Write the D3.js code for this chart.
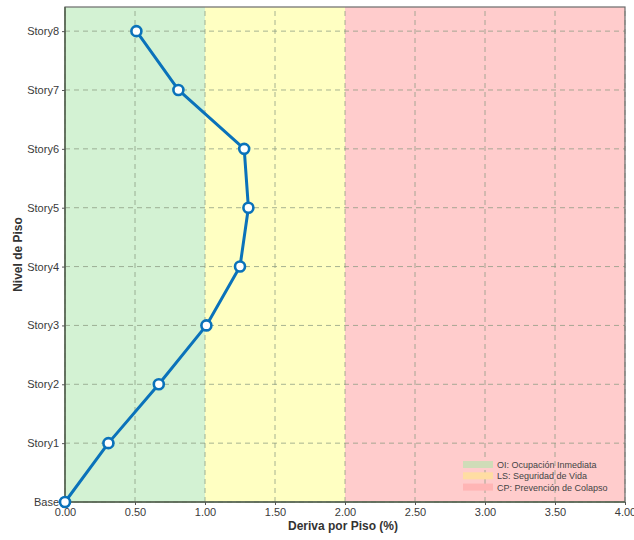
<!DOCTYPE html>
<html>
<head>
<meta charset="utf-8">
<script src="https://cdn.jsdelivr.net/npm/d3@7/dist/d3.min.js"></script>
<style>
  html, body { margin: 0; padding: 0; background: #fff; }
  svg { display: block; font-family: "Liberation Sans", Arial, sans-serif; }
</style>
</head>
<body>
<svg id="chart" width="634" height="540"></svg>
<script>
// Story drift profile
const stories = ["Base", "Story1", "Story2", "Story3", "Story4", "Story5", "Story6", "Story7", "Story8"];
const drift = [0.00, 0.31, 0.67, 1.01, 1.25, 1.31, 1.28, 0.81, 0.51];
const xTicks = [0, 0.5, 1.0, 1.5, 2.0, 2.5, 3.0, 3.5, 4.0];

// Performance zones (drift limits, %)
const zoneNames = ["OI: Ocupación Inmediata", "LS: Seguridad de Vida", "CP: Prevención de Colapso"];
const zoneStart = [0, 1, 2];
const zoneEnd = [1, 2, 4];
const zoneFill = ["#d3f2d3", "#ffffc2", "#ffcccc"];
const legendFill = ["#cfdcb8", "#ffdda3", "#ffb5b5"];

const svg = d3.select("#chart");
const m = { left: 65, right: 10, top: 7, bottom: 38 };
const W = 634, H = 540;

const x = d3.scaleLinear().domain([0, 4]).range([m.left, W - m.right + 1]);
const y = d3.scaleLinear().domain([0, 8.41]).range([H - m.bottom, m.top]);

// zone backgrounds
svg.append("g").selectAll("rect")
  .data(zoneStart)
  .join("rect")
  .attr("x", (d) => x(d))
  .attr("width", (d, i) => x(zoneEnd[i]) - x(d))
  .attr("y", y(8.41))
  .attr("height", y(0) - y(8.41))
  .attr("fill", (d, i) => zoneFill[i]);

// grid
const grid = svg.append("g")
  .attr("stroke", "#8a9a80")
  .attr("stroke-opacity", 0.75)
  .attr("stroke-width", 1)
  .attr("stroke-dasharray", "5,4");
grid.selectAll(".gx").data(xTicks).join("line")
  .attr("x1", (d) => x(d)).attr("x2", (d) => x(d))
  .attr("y1", y(0)).attr("y2", y(8.41));
grid.selectAll(".gy").data(d3.range(stories.length)).join("line")
  .attr("y1", (d) => y(d)).attr("y2", (d) => y(d))
  .attr("x1", x(0)).attr("x2", x(4));

// frame
svg.append("rect")
  .attr("x", x(0)).attr("y", y(8.41))
  .attr("width", x(4) - x(0)).attr("height", y(0) - y(8.41))
  .attr("fill", "none").attr("stroke", "#6b6b6b").attr("stroke-width", 1.2);
svg.append("line")
  .attr("x1", x(0)).attr("x2", x(0)).attr("y1", y(0)).attr("y2", y(8.41))
  .attr("stroke", "#55654f").attr("stroke-width", 1.5);
svg.append("line")
  .attr("x1", x(0)).attr("x2", x(4)).attr("y1", y(0)).attr("y2", y(0))
  .attr("stroke", "#55654f").attr("stroke-width", 1.5);

// axes
const xAxis = d3.axisBottom(x).tickValues(xTicks).tickFormat(d3.format(".2f")).tickSize(3).tickPadding(3);
const yAxis = d3.axisLeft(y).tickValues(d3.range(stories.length)).tickFormat((i) => stories[i]).tickSize(3).tickPadding(3);

const gx = svg.append("g").attr("transform", `translate(0,${y(0)})`).call(xAxis);
const gy = svg.append("g").attr("transform", `translate(${x(0)},0)`).call(yAxis);
[gx, gy].forEach((g) => {
  g.select(".domain").remove();
  g.selectAll(".tick line").attr("stroke", "#555");
  g.selectAll(".tick text").attr("fill", "#3a3a3a").style("font-size", "11px");
});

// axis titles
svg.append("text")
  .attr("x", (x(0) + x(4)) / 2 - 2).attr("y", 530)
  .attr("text-anchor", "middle")
  .attr("fill", "#333").style("font-size", "12px").style("font-weight", "bold")
  .text("Deriva por Piso (%)");
svg.append("text")
  .attr("transform", `translate(22,${(y(0) + y(8.41)) / 2}) rotate(-90)`)
  .attr("text-anchor", "middle")
  .attr("fill", "#333").style("font-size", "12px").style("font-weight", "bold")
  .text("Nivel de Piso");

// drift line
const pts = drift.map((v, i) => [v, i]);
svg.append("path")
  .datum(pts)
  .attr("fill", "none")
  .attr("stroke", "#0a72ba")
  .attr("stroke-width", 3)
  .attr("stroke-linejoin", "round")
  .attr("d", d3.line().x((d) => x(d[0])).y((d) => y(d[1])));

svg.append("g").selectAll("circle")
  .data(pts)
  .join("circle")
  .attr("cx", (d) => x(d[0]))
  .attr("cy", (d) => y(d[1]))
  .attr("r", 5)
  .attr("fill", "#fff")
  .attr("stroke", "#0a72ba")
  .attr("stroke-width", 2.6);

// legend
const lg = svg.append("g").attr("transform", "translate(463,461)");
zoneNames.forEach((name, i) => {
  lg.append("rect")
    .attr("x", 0).attr("y", i * 11.3)
    .attr("width", 30).attr("height", 7)
    .attr("fill", legendFill[i]);
  lg.append("text")
    .attr("x", 34).attr("y", i * 11.3 + 7)
    .attr("fill", "#444")
    .style("font-size", "9px")
    .text(name);
});
</script>
</body>
</html>
